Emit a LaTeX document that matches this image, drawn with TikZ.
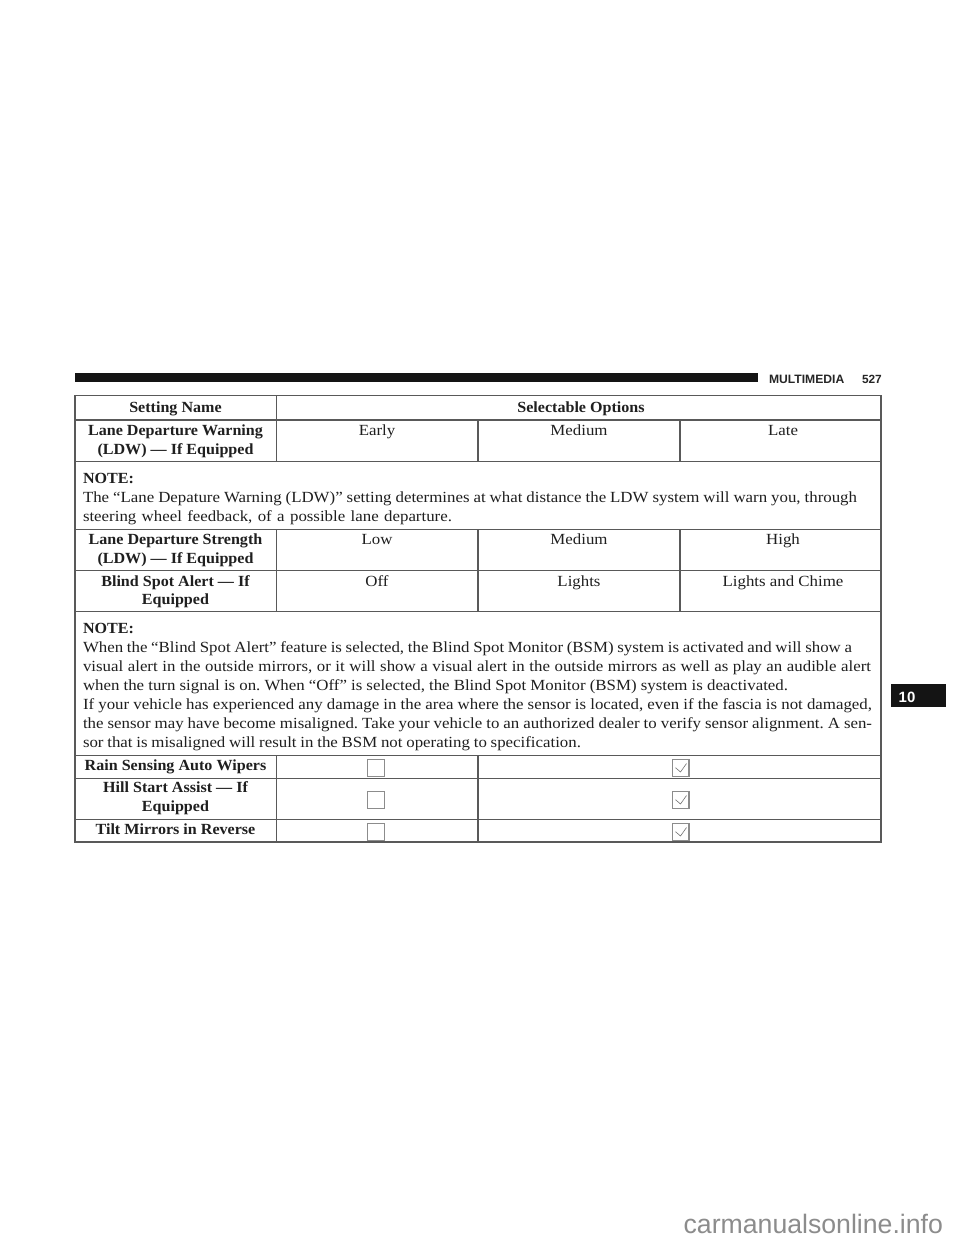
\documentclass[tikz,border=0pt]{standalone}
\usepackage{fontspec}
\setmainfont[FakeStretch=1.09,BoldFeatures={FakeStretch=1.04}]{Liberation Serif}
\newfontfamily\headfont{Liberation Sans}
\tikzset{
  every node/.style={inner sep=0pt,outer sep=0pt},
  rule/.style={draw=black!65,line width=0.85pt},
  lab/.style={anchor=base,font=\fontsize{11.6}{13}\selectfont\frenchspacing,text=black!88},
  bold/.style={lab,font=\fontsize{11.6}{13}\selectfont\bfseries\frenchspacing},
  line/.style={lab,anchor=base west},
  boxmark/.style={draw=black!45,fill=white,line width=0.9pt,minimum width=12.6pt,minimum height=12.6pt,anchor=center},
  tick/.style={draw=black!55,line width=0.45pt},
}
\newcommand{\jl}[2]{\makebox[\dimexpr #1pt*3/4\relax][s]{#2}}
\begin{document}
\begin{tikzpicture}[x=0.75pt,y=-0.75pt]
\useasboundingbox (0,0) rectangle (960,1242);
\fill[white] (0,0) rectangle (960,1242);
% header
\node[fill=black!92,minimum width=512.25pt,minimum height=6.9pt,anchor=north west] (bar) at (75,373) {};
\node[anchor=base west,font=\headfont\fontsize{9.1}{10}\selectfont\bfseries,text=black!85] (mm) at (769,383.5) {MULTIMEDIA};
\node[anchor=base west,font=\headfont\fontsize{8.9}{10}\selectfont\bfseries,text=black!85] (pg) at (862,383.5) {527};
% tab
\node[fill=black!92,minimum width=41.6pt,minimum height=17.25pt,anchor=north west] (tab) at (890.5,684) {};
\node[anchor=base,font=\headfont\fontsize{11.2}{13}\selectfont\bfseries,text=white] (tabn) at (907,702) {10};
% table rules
\draw[rule] (75,395.5) rectangle (881,842);
\foreach \yy in {420,461.5,529.5,570.5,611.5,755.5,778.5,819.5}
  \draw[rule] (75,\yy) -- (881,\yy);
\foreach \ya/\yb in {395.5/461.5,529.5/611.5,755.5/842} \draw[rule] (276.5,\ya) -- (276.5,\yb);
\foreach \ya/\yb in {420/461.5,529.5/611.5} {\draw[rule] (478,\ya) -- (478,\yb); \draw[rule] (680,\ya) -- (680,\yb);}
\draw[rule] (478,755.5) -- (478,842);
% header row
\node[bold] (h1) at (175.5,412) {Setting Name};
\node[bold] (h2) at (581,412) {Selectable Options};
% row ldw
\node[bold] (a1) at (175.5,435) {Lane Departure Warning};
\node[bold] (a2) at (175.5,454) {(LDW) — If Equipped};
\node[lab] (a3) at (377,435) {Early};
\node[lab] (a4) at (579,435) {Medium};
\node[lab] (a5) at (783,435) {Late};
% note 1
\node[bold,anchor=base west] (n1) at (83,483) {NOTE:};
\node[line] (n2) at (83,502) {\jl{774}{The “Lane Depature Warning (LDW)” setting determines at what distance the LDW system will warn you, through}};
\node[line] (n3) at (83,521) {\jl{369}{steering wheel feedback, of a possible lane departure.}};
% strength
\node[bold] (b1) at (175.5,544) {Lane Departure Strength};
\node[bold] (b2) at (175.5,563) {(LDW) — If Equipped};
\node[lab] (b3) at (377,544) {Low};
\node[lab] (b4) at (579,544) {Medium};
\node[lab] (b5) at (783,544) {High};
% blind spot
\node[bold] (c1) at (175.5,586) {Blind Spot Alert — If};
\node[bold] (c2) at (175.5,604.5) {Equipped};
\node[lab] (c3) at (377,586) {Off};
\node[lab] (c4) at (579,586) {Lights};
\node[lab] (c5) at (783,586) {Lights and Chime};
% note 2
\node[bold,anchor=base west] (m1) at (83,633) {NOTE:};
\node[line] (m2) at (83,652) {\jl{769}{When the “Blind Spot Alert” feature is selected, the Blind Spot Monitor (BSM) system is activated and will show a}};
\node[line] (m3) at (83,671) {\jl{788}{visual alert in the outside mirrors, or it will show a visual alert in the outside mirrors as well as play an audible alert}};
\node[line] (m4) at (83,690) {\jl{705}{when the turn signal is on. When “Off” is selected, the Blind Spot Monitor (BSM) system is deactivated.}};
\node[line] (m5) at (83,709) {\jl{789}{If your vehicle has experienced any damage in the area where the sensor is located, even if the fascia is not damaged,}};
\node[line] (m6) at (83,728) {\jl{789}{the sensor may have become misaligned. Take your vehicle to an authorized dealer to verify sensor alignment. A sen-}};
\node[line] (m7) at (83,747) {\jl{498}{sor that is misaligned will result in the BSM not operating to specification.}};
% options rows
\node[bold] (d1) at (175.5,770) {Rain Sensing Auto Wipers};
\node[bold] (e1) at (175.5,792) {Hill Start Assist — If};
\node[bold] (e2) at (175.5,811) {Equipped};
\node[bold] (f1) at (175.5,834) {Tilt Mirrors in Reverse};
\foreach \nm/\yy in {d/768,e/800,f/832} {
  \node[boxmark] (\nm off) at (376,\yy) {};
  \node[boxmark] (\nm on) at (680.5,\yy) {};
  \draw[tick] ([shift={(-5,-0.3)}]\nm on.center) -- ([shift={(0,4)}]\nm on.center) -- ([shift={(6,-4.5)}]\nm on.center);
}
% watermark
\node[anchor=base east,font=\headfont\fontsize{20}{22}\selectfont,text=black!45] (wm) at (943,1233) {carmanualsonline.info};
\end{tikzpicture}
\end{document}
